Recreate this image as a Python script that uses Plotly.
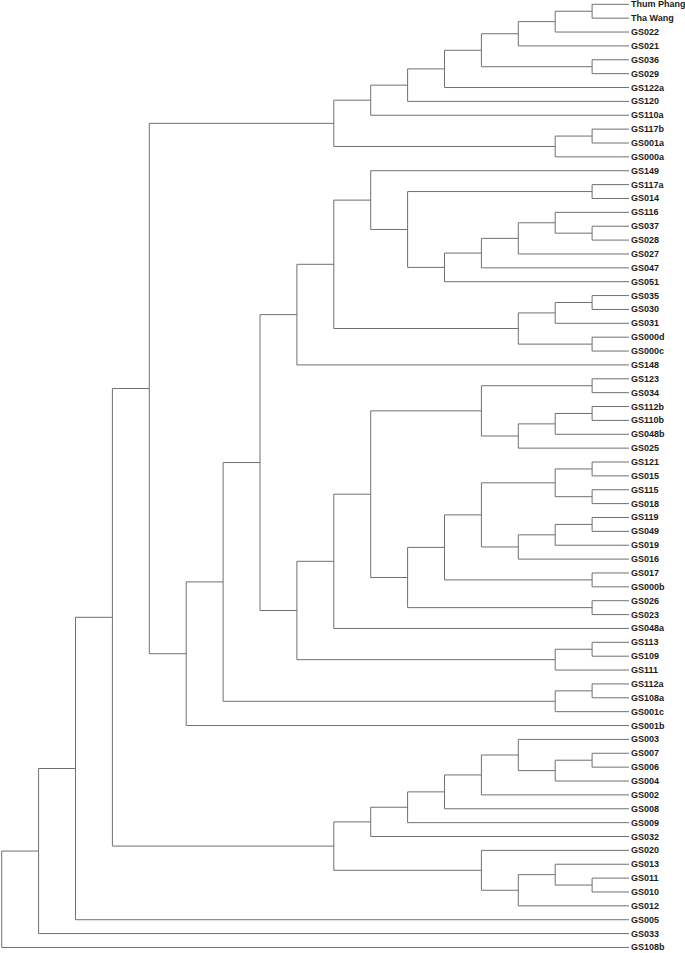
import plotly.graph_objects as go

# Tree topology (Newick)
clade_A = "((((((((Thum Phang,Tha Wang),GS022),GS021),(GS036,GS029)),GS122a),GS120),GS110a),((GS117b,GS001a),GS000a))"
clade_B1 = "(GS149,((GS117a,GS014),((((GS116,(GS037,GS028)),GS027),GS047),GS051)))"
clade_B2 = "(((GS035,GS030),GS031),(GS000d,GS000c))"
clade_D4a = "((GS123,GS034),(((GS112b,GS110b),GS048b),GS025))"
clade_D4b = "((((GS121,GS015),(GS115,GS018)),(((GS119,GS049),GS019),GS016)),(GS017,GS000b))"
clade_C1 = "(((((GS003,((GS007,GS006),GS004)),GS002),GS008),GS009),GS032)"
clade_C2 = "(GS020,((GS013,(GS011,GS010)),GS012))"

clade_B = f"(({clade_B1},{clade_B2}),GS148)"
clade_D9 = f"((({clade_D4a},({clade_D4b},(GS026,GS023))),GS048a),((GS113,GS109),GS111))"
h12 = f"((({clade_B},{clade_D9}),((GS112a,GS108a),GS001c)),GS001b)"
clade_C = f"({clade_C1},{clade_C2})"
newick = f"((((({clade_A},{h12}),{clade_C}),GS005),GS033),GS108b)"


def parse(s):
    pos = 0

    def node():
        nonlocal pos
        if s[pos] == "(":
            pos += 1
            kids = [node()]
            while s[pos] == ",":
                pos += 1
                kids.append(node())
            assert s[pos] == ")"
            pos += 1
            return kids
        start = pos
        while pos < len(s) and s[pos] not in ",()":
            pos += 1
        return s[start:pos]

    t = node()
    assert pos == len(s)
    return t


tree = parse(newick)

leaves = []
xs, ys = [], []


def layout(t):
    """returns (height, y)"""
    if not isinstance(t, list):
        leaves.append(t)
        return 0, len(leaves) - 1
    info = [layout(c) for c in t]
    h = max(i[0] for i in info) + 1
    y = (info[0][1] + info[-1][1]) / 2
    xs.extend([h, h, None]); ys.extend([info[0][1], info[-1][1], None])
    for ch, cy in info:
        xs.extend([h, ch, None]); ys.extend([cy, cy, None])
    return h, y


layout(tree)

fig = go.Figure()
fig.add_trace(go.Scatter(x=xs, y=ys, mode="lines",
                         line=dict(color="#707070", width=1),
                         hoverinfo="skip", showlegend=False))

for i, name in enumerate(leaves):
    fig.add_annotation(x=0, y=i, xref="x", yref="y", text="<b>%s</b>" % name,
                       showarrow=False, xanchor="left", yanchor="middle",
                       xshift=1, borderpad=0,
                       font=dict(family="Liberation Sans, Arial", size=9, color="#1a1a1a"))

step = 36.9
leaf_px = 629.0
W, H = 685, 953
row = 13.87
top = 4.3
fig.update_layout(
    width=W, height=H, margin=dict(l=0, r=0, t=0, b=0),
    plot_bgcolor="white", paper_bgcolor="white",
    xaxis=dict(range=[leaf_px / step, -(W - leaf_px) / step], visible=False, fixedrange=True),
    yaxis=dict(range=[(H - top) / row, -top / row], visible=False, fixedrange=True),
)
fig.write_html("out.html", config={"displayModeBar": False},
               post_script="document.body.style.margin='0';document.body.style.overflow='hidden';")
